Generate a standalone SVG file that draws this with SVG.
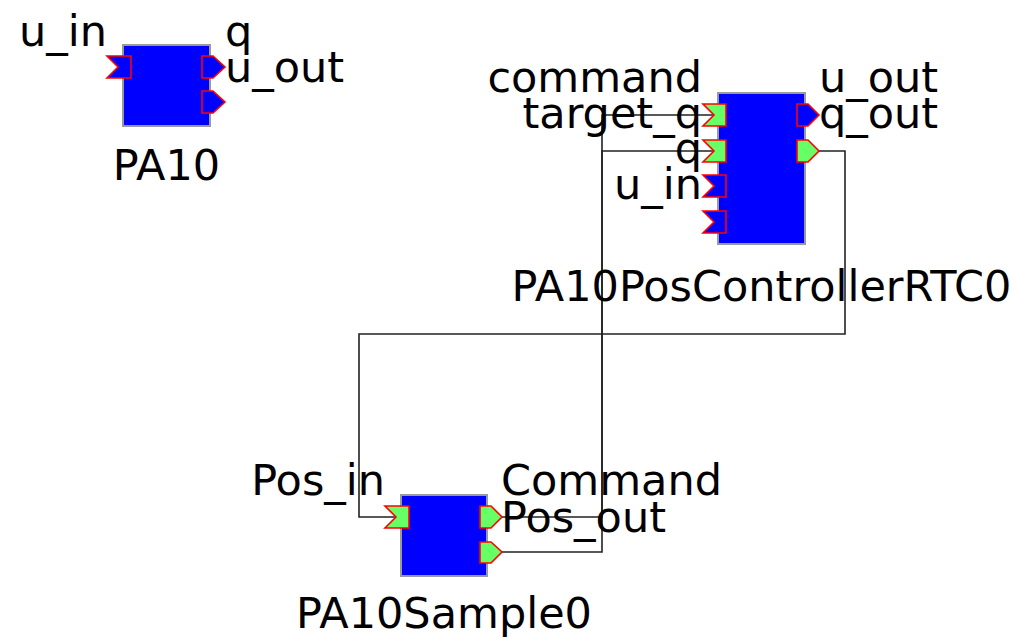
<svg xmlns="http://www.w3.org/2000/svg" width="1015" height="638" viewBox="0 0 1015 638">
<style>
.blk{fill:#0000FF;stroke:#9a9a9a;stroke-width:2}
.pb{fill:#0000FF;stroke:#FF0000;stroke-width:1.6;stroke-linejoin:miter}
.pg{fill:#66FF66;stroke:#FF0000;stroke-width:1.6;stroke-linejoin:miter}
.t{font-family:"DejaVu Sans",Verdana,sans-serif;font-size:43px;fill:#000}
.e{text-anchor:end}
.m{text-anchor:middle}
.c{fill:none;stroke:#222;stroke-width:1.6}
</style>
<rect width="1015" height="638" fill="#fff"/>
<g id="connectors">
<polyline class="c" points="490,517 602,517 602,115 715,115"/>
<polyline class="c" points="490,552 602,552 602,151 715,151"/>
<polyline class="c" points="808,151 845,151 845,334 359,334 359,517 397,517"/>
</g>
<g id="PA10">
<rect class="blk" x="123" y="45" width="87" height="81"/>
<path class="pb" d="M107,56 H131 V78 H107 L118,67 Z"/>
<path class="pb" d="M202,56 H213 L225,67 L213,78 H202 Z"/>
<path class="pb" d="M202,91 H213 L225,102 L213,113 H202 Z"/>
<text class="t e" x="107" y="46">u_in</text>
<text class="t" x="225" y="46">q</text>
<text class="t" x="225" y="82">u_out</text>
<text class="t m" x="166.5" y="180">PA10</text>
</g>
<g id="PA10PosControllerRTC0">
<rect class="blk" x="718" y="93" width="87" height="151"/>
<path class="pg" d="M703,104 H726 V126 H703 L714,115 Z"/>
<path class="pg" d="M703,140 H726 V162 H703 L714,151 Z"/>
<path class="pb" d="M703,175 H726 V197 H703 L714,186 Z"/>
<path class="pb" d="M703,211 H726 V233 H703 L714,222 Z"/>
<path class="pb" d="M797,104 H808 L819,115 L808,126 H797 Z"/>
<path class="pg" d="M797,140 H808 L819,151 L808,162 H797 Z"/>
<text class="t e" x="702" y="92">command</text>
<text class="t e" x="702" y="128">target_q</text>
<text class="t e" x="702" y="163">q</text>
<text class="t e" x="702" y="199">u_in</text>
<text class="t" x="819" y="92">u_out</text>
<text class="t" x="819" y="128">q_out</text>
<text class="t m" x="761.5" y="301">PA10PosControllerRTC0</text>
</g>
<g id="PA10Sample0">
<rect class="blk" x="401" y="495" width="86" height="81"/>
<path class="pg" d="M385,506 H409 V528 H385 L396,517 Z"/>
<path class="pg" d="M480,506 H491 L502,517 L491,528 H480 Z"/>
<path class="pg" d="M480,542 H491 L502,552 L491,563 H480 Z"/>
<text class="t e" x="385" y="495">Pos_in</text>
<text class="t" x="501" y="495">Command</text>
<text class="t" x="501" y="532">Pos_out</text>
<text class="t m" x="444" y="628">PA10Sample0</text>
</g>
</svg>
